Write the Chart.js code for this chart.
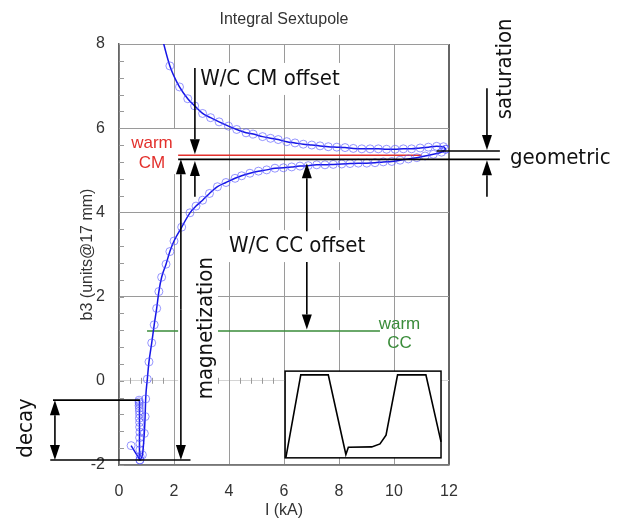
<!DOCTYPE html>
<html>
<head>
<meta charset="utf-8">
<title>Integral Sextupole</title>
<script src="https://cdn.jsdelivr.net/npm/chart.js@4.4.1/dist/chart.umd.min.js"></script>
<style>
    html, body { margin: 0; padding: 0; background: #fff; }
    canvas { display: block; }
</style>
</head>
<body>
<canvas id="chart" width="619" height="529"></canvas>
<script>
// Ramp up (lower branch): current in kA, b3 in units@17 mm
const rampUpI = [0.76, 0.85, 0.92, 0.95, 0.97, 1.03, 1.09, 1.19, 1.28, 1.37, 1.45, 1.55, 1.71, 1.85, 2.0, 2.28, 2.58, 2.80, 3.04, 3.29,
    3.58, 3.89, 4.22, 4.46, 4.76, 5.07, 5.37, 5.67, 5.98, 6.28, 6.58, 6.88, 7.19, 7.49, 7.79, 8.10, 8.40, 8.70, 9.01, 9.31,
    9.61, 9.92, 10.22, 10.52, 10.83, 11.13, 11.43, 11.73, 11.88];
const rampUpB3 = [-1.88, -1.76, -1.25, -0.85, -0.43, 0.04, 0.45, 0.90, 1.33, 1.72, 2.12, 2.46, 2.77, 3.07, 3.32, 3.65, 3.99, 4.15, 4.29, 4.45,
    4.61, 4.71, 4.81, 4.87, 4.93, 4.98, 5.01, 5.05, 5.06, 5.08, 5.10, 5.11, 5.13, 5.13, 5.14, 5.15, 5.16, 5.17, 5.17, 5.18,
    5.20, 5.21, 5.24, 5.27, 5.30, 5.34, 5.38, 5.43, 5.50];

// Ramp down (upper branch)
const rampDownI = [1.45, 1.85, 2.2, 2.5, 2.75, 3.04, 3.33, 3.64, 3.98, 4.28, 4.62, 4.88, 5.22, 5.51, 5.79, 6.10, 6.40, 6.70, 7.01, 7.31,
    7.61, 7.92, 8.22, 8.52, 8.83, 9.13, 9.43, 9.73, 10.04, 10.34, 10.64, 10.95, 11.25, 11.55, 11.8, 11.88];
const rampDownB3 = [8.45, 7.48, 6.98, 6.70, 6.53, 6.35, 6.25, 6.15, 6.05, 5.97, 5.89, 5.86, 5.80, 5.76, 5.73, 5.68, 5.65, 5.62, 5.60, 5.58,
    5.56, 5.55, 5.54, 5.52, 5.51, 5.51, 5.51, 5.50, 5.50, 5.51, 5.51, 5.53, 5.55, 5.57, 5.56, 5.50];

// Decay at injection
const decayI = [0.44, 0.76, 0.73, 0.73, 0.74, 0.73, 0.74, 0.74, 0.75, 0.74, 0.75, 0.75, 0.76, 0.75, 0.76, 0.76, 0.77];
const decayB3 = [-1.54, -1.88, -0.46, -0.50, -0.54, -0.59, -0.65, -0.72, -0.80, -0.89, -0.99, -1.10, -1.22, -1.35, -1.49, -1.64, -1.80];

// Warm reference levels and their extent in I
const warmCM = 5.36;
const warmCMRange = [2.15, 11.0];
const warmCC = 1.18;
const warmCCRange = [1.02, 2.15, 3.6, 9.49];

// Inset: current cycle sketch
const insetI = [6.07, 6.61, 7.61, 8.25, 8.34, 9.19, 9.49, 9.71, 10.13, 11.16, 11.71];
const insetB3 = [-1.82, 0.14, 0.14, -1.75, -1.58, -1.57, -1.50, -1.29, 0.14, 0.14, -1.45];

const xTickValues = [0, 2, 4, 6, 8, 10, 12];
const yTickValues = [-2, 0, 2, 4, 6, 8];

const SANS = "'Liberation Sans', Arial, sans-serif";
const BIG = "22px 'DejaVu Sans Condensed', 'Liberation Sans', sans-serif";
const SMALL = "17px 'Liberation Sans', Arial, sans-serif";
const RED = '#e3302c';
const GREEN = '#3a8c3a';

function toPoints(xs, ys) {
    return xs.map((x, i) => ({ x: x, y: ys[i] }));
}

function arrow(ctx, x, yTail, yTip) {
    const dir = Math.sign(yTip - yTail);
    const len = 15, half = 5;
    ctx.beginPath();
    ctx.moveTo(x, yTail);
    ctx.lineTo(x, yTip - dir * len);
    ctx.stroke();
    ctx.beginPath();
    ctx.moveTo(x, yTip);
    ctx.lineTo(x - half, yTip - dir * len);
    ctx.lineTo(x + half, yTip - dir * len);
    ctx.closePath();
    ctx.fill();
}

// Annotations drawn in data space through the chart's scales
const notes = {
    id: 'notes',
    beforeDatasetsDraw(chart) {
        const ctx = chart.ctx;
        const X = v => chart.scales.x.getPixelForValue(v);
        const Y = v => chart.scales.y.getPixelForValue(v);
        ctx.save();

        // minor ticks on left axis and along the zero line
        ctx.strokeStyle = '#999';
        ctx.lineWidth = 1;
        for (let i = 0; i <= 25; i++) {
            const py = Math.round(Y(-2 + i * 0.4)) + 0.5;
            ctx.beginPath();
            ctx.moveTo(X(0), py);
            ctx.lineTo(X(0) + 5, py);
            ctx.stroke();
        }
        for (let i = 1; i < 15; i++) {
            const px = Math.round(X(i * 0.4)) + 0.5;
            ctx.beginPath();
            ctx.moveTo(px, Y(0) - 3);
            ctx.lineTo(px, Y(0) + 3);
            ctx.stroke();
        }

        // white boxes behind labels
        const boxes = [
            [2.84, 8.36, 7.55, 6.79],   // W/C CM offset
            [3.9, 9.45, 3.58, 2.82],    // W/C CC offset
            [2.15, 3.6, 3.0, -0.45],    // magnetization
            [0.4, 2.07, 5.98, 4.91]     // warm CM
        ];
        ctx.fillStyle = '#fff';
        boxes.forEach(b => {
            ctx.fillRect(X(b[0]), Y(b[2]), X(b[1]) - X(b[0]), Y(b[3]) - Y(b[2]));
        });

        // inset frame
        ctx.fillRect(X(6.04), Y(0.23), X(11.71) - X(6.04), Y(-1.83) - Y(0.23));
        ctx.strokeStyle = '#000';
        ctx.lineWidth = 1.5;
        ctx.strokeRect(X(6.04), Y(0.23), X(11.71) - X(6.04), Y(-1.83) - Y(0.23));
        ctx.restore();
    },
    afterDraw(chart) {
        const ctx = chart.ctx;
        const X = v => chart.scales.x.getPixelForValue(v);
        const Y = v => chart.scales.y.getPixelForValue(v);
        ctx.save();
        ctx.strokeStyle = '#000';
        ctx.fillStyle = '#000';
        ctx.lineWidth = 1.6;

        // horizontal markers
        const hLines = [
            [2.15, 13.85, 5.26],
            [11.55, 13.85, 5.46],
            [-2.4, 0.76, -0.46],
            [-2.5, 2.6, -1.88]
        ];
        hLines.forEach(l => {
            ctx.beginPath();
            ctx.moveTo(X(l[0]), Y(l[2]));
            ctx.lineTo(X(l[1]), Y(l[2]));
            ctx.stroke();
        });

        // arrows: x, tail, tip
        const arrows = [
            [2.76, 7.43, 5.38],
            [2.76, 4.37, 5.22],
            [2.25, 1.7, 5.26],
            [2.25, 1.7, -1.88],
            [6.83, 3.55, 5.17],
            [6.83, 2.82, 1.22],
            [13.38, 6.95, 5.48],
            [13.38, 4.37, 5.24],
            [-2.33, -1.17, -0.46],
            [-2.33, -1.17, -1.88]
        ];
        arrows.forEach(a => arrow(ctx, X(a[0]), Y(a[1]), Y(a[2])));

        // labels
        const labels = [
            { text: 'W/C CM offset', x: 2.95, y: 7.17, font: BIG, align: 'left' },
            { text: 'W/C CC offset', x: 4.0, y: 3.20, font: BIG, align: 'left' },
            { text: 'geometric', x: 14.22, y: 5.29, font: BIG, align: 'left' },
            { text: 'magnetization', x: 3.16, y: 1.25, font: BIG, rot: true },
            { text: 'saturation', x: 14.04, y: 7.41, font: BIG, rot: true },
            { text: 'decay', x: -3.38, y: -1.12, font: BIG, rot: true },
            { text: 'warm', x: 1.2, y: 5.63, font: SMALL, color: RED },
            { text: 'CM', x: 1.2, y: 5.17, font: SMALL, color: RED },
            { text: 'warm', x: 10.2, y: 1.33, font: SMALL, color: GREEN },
            { text: 'CC', x: 10.2, y: 0.9, font: SMALL, color: GREEN }
        ];
        ctx.textBaseline = 'middle';
        labels.forEach(l => {
            ctx.font = l.font;
            ctx.fillStyle = l.color || '#111';
            ctx.save();
            ctx.translate(X(l.x), Y(l.y));
            if (l.rot) ctx.rotate(-Math.PI / 2);
            ctx.textAlign = l.rot ? 'center' : (l.align || 'center');
            ctx.fillText(l.text, 0, 0);
            ctx.restore();
        });
        ctx.restore();
    }
};

const pointStyle = {
    showLine: true,
    borderColor: '#1616e6',
    borderWidth: 1.5,
    pointRadius: 4,
    pointBorderWidth: 1,
    pointBorderColor: 'rgba(80, 80, 255, 0.6)',
    pointBackgroundColor: 'rgba(0, 0, 0, 0)'
};

const ctx = document.getElementById('chart').getContext('2d');
new Chart(ctx, {
    type: 'scatter',
    data: {
        datasets: [
            Object.assign({ data: toPoints(rampUpI, rampUpB3), cubicInterpolationMode: 'monotone' }, pointStyle),
            Object.assign({ data: toPoints(rampDownI, rampDownB3), cubicInterpolationMode: 'monotone' }, pointStyle),
            Object.assign({ data: toPoints(decayI, decayB3), tension: 0 }, pointStyle),
            {
                data: warmCMRange.map(v => ({ x: v, y: warmCM })),
                showLine: true, borderColor: RED, borderWidth: 1.5, pointRadius: 0
            },
            {
                data: [
                    { x: warmCCRange[0], y: warmCC },
                    { x: warmCCRange[1], y: warmCC },
                    { x: (warmCCRange[1] + warmCCRange[2]) / 2, y: null },
                    { x: warmCCRange[2], y: warmCC },
                    { x: warmCCRange[3], y: warmCC }
                ],
                showLine: true, spanGaps: false, borderColor: GREEN, borderWidth: 1.5, pointRadius: 0
            },
            {
                data: toPoints(insetI, insetB3),
                showLine: true, borderColor: '#000', borderWidth: 1.6, pointRadius: 0, tension: 0
            }
        ]
    },
    options: {
        responsive: false,
        animation: false,
        layout: { padding: { left: 78, right: 170, top: 0, bottom: 0 } },
        plugins: {
            legend: { display: false },
            tooltip: { enabled: false },
            title: {
                display: true,
                text: 'Integral Sextupole',
                fullSize: false,
                color: '#333',
                font: { family: SANS, size: 16, weight: 'normal' },
                padding: { top: 10, bottom: 14.8 }
            }
        },
        scales: {
            x: {
                type: 'linear',
                min: 0,
                max: 12,
                afterBuildTicks: s => { s.ticks = xTickValues.map(v => ({ value: v })); },
                afterFit: s => { s.height = 64; },
                ticks: { color: '#333', padding: 17, font: { family: SANS, size: 16 } },
                grid: {
                    drawTicks: false,
                    color: c => c.tick && c.tick.value === 12 ? '#666' : '#9a9a9a',
                    lineWidth: c => c.tick && c.tick.value === 12 ? 2 : 1
                },
                border: { color: '#777', width: 1.5 },
                title: {
                    display: true,
                    text: 'I (kA)',
                    color: '#333',
                    font: { family: SANS, size: 16 },
                    padding: { top: 0, bottom: 9 }
                }
            },
            y: {
                min: -2,
                max: 8,
                afterBuildTicks: s => { s.ticks = yTickValues.map(v => ({ value: v })); },
                afterFit: s => { s.width = 41; },
                ticks: { color: '#333', padding: 14, font: { family: SANS, size: 16 } },
                grid: {
                    drawTicks: false,
                    color: c => c.tick && c.tick.value === 0 ? '#d4d4d4' : '#9a9a9a'
                },
                border: { color: '#666', width: 1.5 },
                title: {
                    display: true,
                    text: 'b3 (units@17 mm)',
                    color: '#333',
                    font: { family: SANS, size: 16 },
                    padding: 0
                }
            }
        }
    },
    plugins: [notes]
});
</script>
</body>
</html>
